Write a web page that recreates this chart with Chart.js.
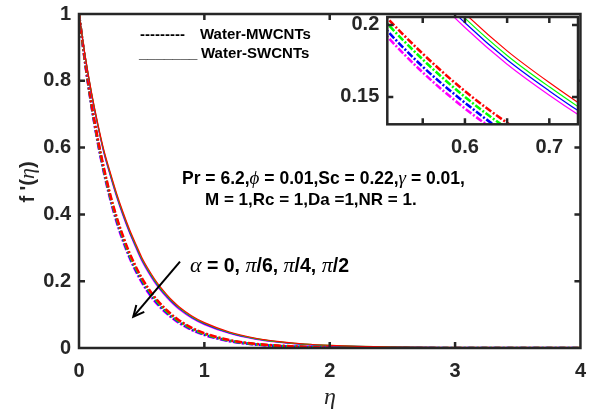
<!DOCTYPE html>
<html>
<head>
<meta charset="utf-8">
<script src="https://cdn.jsdelivr.net/npm/chart.js@4.4.0/dist/chart.umd.min.js"></script>
<style>
  html, body { margin: 0; padding: 0; background: #fff; }
  #wrap { position: relative; width: 589px; height: 411px; }
  #main { position: absolute; left: 0; top: 0; }
  #inset { position: absolute; left: 330px; top: 0; pointer-events: none; }
</style>
</head>
<body>
<div id="wrap">
  <canvas id="main" width="589" height="411"></canvas>
  <canvas id="inset" width="259" height="160"></canvas>
</div>
<script>
// data: f'(eta) for alpha = 0, pi/6, pi/4, pi/2
const eta = [0, 0.05, 0.1, 0.15, 0.2, 0.25, 0.3, 0.35, 0.4, 0.45, 0.5, 0.55, 0.6, 0.65, 0.7, 0.75, 0.8, 0.9, 1.0, 1.2, 1.4, 1.6, 1.8, 2.0, 2.5, 3.0, 3.5, 4.0];

// Water-SWCNTs (solid)
const swRed     = [1, 0.873, 0.765, 0.672, 0.590, 0.525, 0.463, 0.408, 0.358, 0.314, 0.272, 0.238, 0.208, 0.182, 0.160, 0.140, 0.123, 0.096, 0.076, 0.048, 0.030, 0.019, 0.012, 0.008, 0.003, 0.0012, 0.0005, 0];
const swGreen   = [1, 0.872, 0.763, 0.669, 0.587, 0.521, 0.459, 0.404, 0.354, 0.310, 0.268, 0.2345, 0.2047, 0.1788, 0.1570, 0.1372, 0.1204, 0.0937, 0.0739, 0.0465, 0.0289, 0.0182, 0.0114, 0.0076, 0.0028, 0.0011, 0.0005, 0];
const swBlue    = [1, 0.871, 0.761, 0.667, 0.584, 0.518, 0.456, 0.4005, 0.3505, 0.3066, 0.2649, 0.2312, 0.2015, 0.1758, 0.1542, 0.1345, 0.1179, 0.0915, 0.0721, 0.0450, 0.0279, 0.0175, 0.0109, 0.0072, 0.0027, 0.0011, 0.0004, 0];
const swMagenta = [1, 0.8695, 0.7589, 0.664, 0.5806, 0.5145, 0.4519, 0.3966, 0.3469, 0.3030, 0.2614, 0.2278, 0.1982, 0.1727, 0.1512, 0.1319, 0.1154, 0.0894, 0.0701, 0.0436, 0.0268, 0.0167, 0.0104, 0.0068, 0.0025, 0.0010, 0.0004, 0];

// Water-MWCNTs (dash-dot)
const mwRed     = [1, 0.856, 0.732, 0.626, 0.536, 0.458, 0.392, 0.336, 0.287, 0.246, 0.210, 0.180, 0.154, 0.132, 0.113, 0.0963, 0.0824, 0.0603, 0.0442, 0.0237, 0.0127, 0.0068, 0.0036, 0.0020, 0.0004, 0.0001, 0, 0];
const mwGreen   = [1, 0.854, 0.729, 0.622, 0.531, 0.453, 0.387, 0.331, 0.282, 0.241, 0.206, 0.176, 0.150, 0.128, 0.109, 0.0933, 0.0796, 0.0580, 0.0423, 0.0225, 0.0119, 0.0063, 0.0034, 0.0018, 0.0004, 0.0001, 0, 0];
const mwBlue    = [1, 0.852, 0.726, 0.618, 0.527, 0.449, 0.382, 0.326, 0.277, 0.236, 0.201, 0.171, 0.146, 0.124, 0.106, 0.0903, 0.0769, 0.0558, 0.0405, 0.0213, 0.0112, 0.0059, 0.0031, 0.0016, 0.0003, 0.0001, 0, 0];
const mwMagenta = [1, 0.850, 0.723, 0.614, 0.522, 0.444, 0.377, 0.321, 0.273, 0.232, 0.197, 0.167, 0.142, 0.121, 0.103, 0.0874, 0.0743, 0.0537, 0.0388, 0.0202, 0.0106, 0.0055, 0.0029, 0.0015, 0.0003, 0.0001, 0, 0];

// ticks
const mainXTicks = [0, 1, 2, 3, 4];
const mainYTicks = [0, 0.2, 0.4, 0.6, 0.8, 1];
const insetXLabels = [0.6, 0.7];
const insetXMarks = [0.55, 0.6, 0.65, 0.7];
const insetYTicks = [0.15, 0.2];

const AXIS = '#262626';
const BOLD = s => 'bold ' + s + 'px "Liberation Sans", Arial, sans-serif';
const GREEK = s => 'italic ' + s + 'px "Liberation Serif", "DejaVu Serif", serif';
const TICKFONT = {family: '"Liberation Sans", Arial', size: 20, weight: 'bold'};

const pts = arr => eta.map((x, i) => ({x, y: arr[i]}));

function makeDatasets() {
  const solid = (data, color) => ({data: pts(data), borderColor: color, borderWidth: 1.2, pointRadius: 0, clip: 0});
  const dash = (data, color) => ({data: pts(data), borderColor: color, borderWidth: 2.6, borderDash: [7, 2, 2, 2], pointRadius: 0, clip: 0});
  return [
    solid(swRed, '#ff0000'), solid(swGreen, '#00ff00'), solid(swBlue, '#0000ff'), solid(swMagenta, '#ff00ff'),
    dash(mwRed, '#ff0000'), dash(mwGreen, '#00ff00'), dash(mwBlue, '#0000ff'), dash(mwMagenta, '#ff00ff')
  ];
}

// frame + inward ticks, MATLAB style
function framePlugin(xMarks, yMarks, fillWhite) {
  return {
    id: 'frame',
    beforeDraw(chart) {
      if (!fillWhite) return;
      const {ctx, chartArea: a} = chart;
      ctx.save();
      ctx.fillStyle = '#fff';
      ctx.fillRect(a.left, a.top, a.right - a.left, a.bottom - a.top);
      ctx.restore();
    },
    afterDraw(chart) {
      const {ctx, chartArea: a, scales: {x, y}} = chart;
      ctx.save();
      ctx.strokeStyle = AXIS;
      ctx.lineWidth = 2.5;
      ctx.strokeRect(a.left, a.top, a.right - a.left, a.bottom - a.top);
      const len = 6;
      ctx.beginPath();
      xMarks.forEach(v => {
        const px = x.getPixelForValue(v);
        ctx.moveTo(px, a.bottom); ctx.lineTo(px, a.bottom - len);
        ctx.moveTo(px, a.top); ctx.lineTo(px, a.top + len);
      });
      yMarks.forEach(v => {
        const py = y.getPixelForValue(v);
        ctx.moveTo(a.left, py); ctx.lineTo(a.left + len, py);
        ctx.moveTo(a.right, py); ctx.lineTo(a.right - len, py);
      });
      ctx.stroke();
      ctx.restore();
    }
  };
}

function drawRuns(ctx, x, y, runs, align) {
  let w = 0;
  runs.forEach(([t, f]) => { ctx.font = f; w += ctx.measureText(t).width; });
  let cx = align === 'center' ? x - w / 2 : x;
  runs.forEach(([t, f]) => {
    ctx.font = f;
    ctx.fillText(t, cx, y);
    cx += ctx.measureText(t).width;
  });
}

const textPlugin = {
  id: 'texts',
  afterDraw(chart) {
    const ctx = chart.ctx;
    ctx.save();
    ctx.fillStyle = '#000';
    ctx.textBaseline = 'alphabetic';
    ctx.textAlign = 'left';
    // legend typed as text
    ctx.font = BOLD(15);
    ctx.fillText('---------', 140, 38.5);
    ctx.fillText('Water-MWCNTs', 200, 38.5);
    ctx.fillText('_______', 139, 58);
    ctx.fillText('Water-SWCNTs', 201, 58);
    // parameters
    drawRuns(ctx, 182, 183.5, [['Pr = 6.2,', BOLD(17.5)], ['\u03d5', GREEK(19)], [' = 0.01,Sc = 0.22,', BOLD(17.5)], ['\u03b3', GREEK(19)], [' = 0.01,', BOLD(17.5)]]);
    drawRuns(ctx, 205, 204.5, [['M = 1,Rc = 1,Da =1,NR = 1.', BOLD(17)]]);
    drawRuns(ctx, 190, 272, [['\u03b1', GREEK(22)], [' = 0, ', BOLD(19.5)], ['\u03c0', GREEK(22)], ['/6, ', BOLD(19.5)], ['\u03c0', GREEK(22)], ['/4, ', BOLD(19.5)], ['\u03c0', GREEK(22)], ['/2', BOLD(19.5)]]);
    // arrow
    const x0 = 180, y0 = 261.7, x1 = 133.3, y1 = 316.7;
    ctx.strokeStyle = '#000';
    ctx.lineWidth = 2;
    ctx.beginPath(); ctx.moveTo(x0, y0); ctx.lineTo(x1, y1); ctx.stroke();
    const ang = Math.atan2(y1 - y0, x1 - x0);
    ctx.beginPath();
    ctx.moveTo(x1 - 12 * Math.cos(ang - 0.45), y1 - 12 * Math.sin(ang - 0.45));
    ctx.lineTo(x1, y1);
    ctx.lineTo(x1 - 12 * Math.cos(ang + 0.45), y1 - 12 * Math.sin(ang + 0.45));
    ctx.stroke();
    // axis titles
    ctx.fillStyle = AXIS;
    ctx.textBaseline = 'middle';
    drawRuns(ctx, 330, 398, [['\u03b7', GREEK(24)]], 'center');
    ctx.translate(28, 182);
    ctx.rotate(-Math.PI / 2);
    drawRuns(ctx, 0, 0, [["f '(", BOLD(20)], ['\u03b7', GREEK(22)], [')', BOLD(20)]], 'center');
    ctx.restore();
  }
};

const fmt = v => String(+v.toFixed(2));

new Chart(document.getElementById('main'), {
  type: 'line',
  data: {datasets: makeDatasets()},
  options: {
    responsive: false,
    animation: false,
    devicePixelRatio: 1,
    layout: {padding: {top: 14, right: 7, left: 0, bottom: 0}},
    plugins: {legend: {display: false}, tooltip: {enabled: false}},
    elements: {line: {cubicInterpolationMode: 'monotone'}},
    scales: {
      x: {
        type: 'linear', min: 0, max: 4,
        afterBuildTicks: s => { s.ticks = mainXTicks.map(value => ({value})); },
        afterFit: s => { s.height = 63; },
        grid: {display: false}, border: {display: false},
        ticks: {font: TICKFONT, color: AXIS, padding: 3, callback: fmt, maxRotation: 0}
      },
      y: {
        min: 0, max: 1,
        afterBuildTicks: s => { s.ticks = mainYTicks.map(value => ({value})); },
        afterFit: s => { s.width = 79; },
        grid: {display: false}, border: {display: false},
        ticks: {font: TICKFONT, color: AXIS, padding: 0, callback: fmt}
      }
    }
  },
  plugins: [framePlugin([1, 2, 3], [0.2, 0.4, 0.6, 0.8], false), textPlugin]
});

new Chart(document.getElementById('inset'), {
  type: 'line',
  data: {datasets: makeDatasets()},
  options: {
    responsive: false,
    animation: false,
    devicePixelRatio: 1,
    layout: {padding: {top: 17, right: 11, left: 0, bottom: 0}},
    plugins: {legend: {display: false}, tooltip: {enabled: false}},
    elements: {line: {cubicInterpolationMode: 'monotone'}},
    scales: {
      x: {
        type: 'linear', min: 0.508, max: 0.734,
        afterBuildTicks: s => { s.ticks = insetXLabels.map(value => ({value})); },
        afterFit: s => { s.height = 35.7; },
        grid: {display: false}, border: {display: false},
        ticks: {font: TICKFONT, color: AXIS, padding: 3, callback: fmt, maxRotation: 0}
      },
      y: {
        min: 0.131, max: 0.2055,
        afterBuildTicks: s => { s.ticks = insetYTicks.map(value => ({value})); },
        afterFit: s => { s.width = 57.3; },
        grid: {display: false}, border: {display: false},
        ticks: {font: TICKFONT, color: AXIS, padding: 0, callback: fmt}
      }
    }
  },
  plugins: [framePlugin(insetXMarks, insetYTicks, true)]
});
</script>
</body>
</html>
